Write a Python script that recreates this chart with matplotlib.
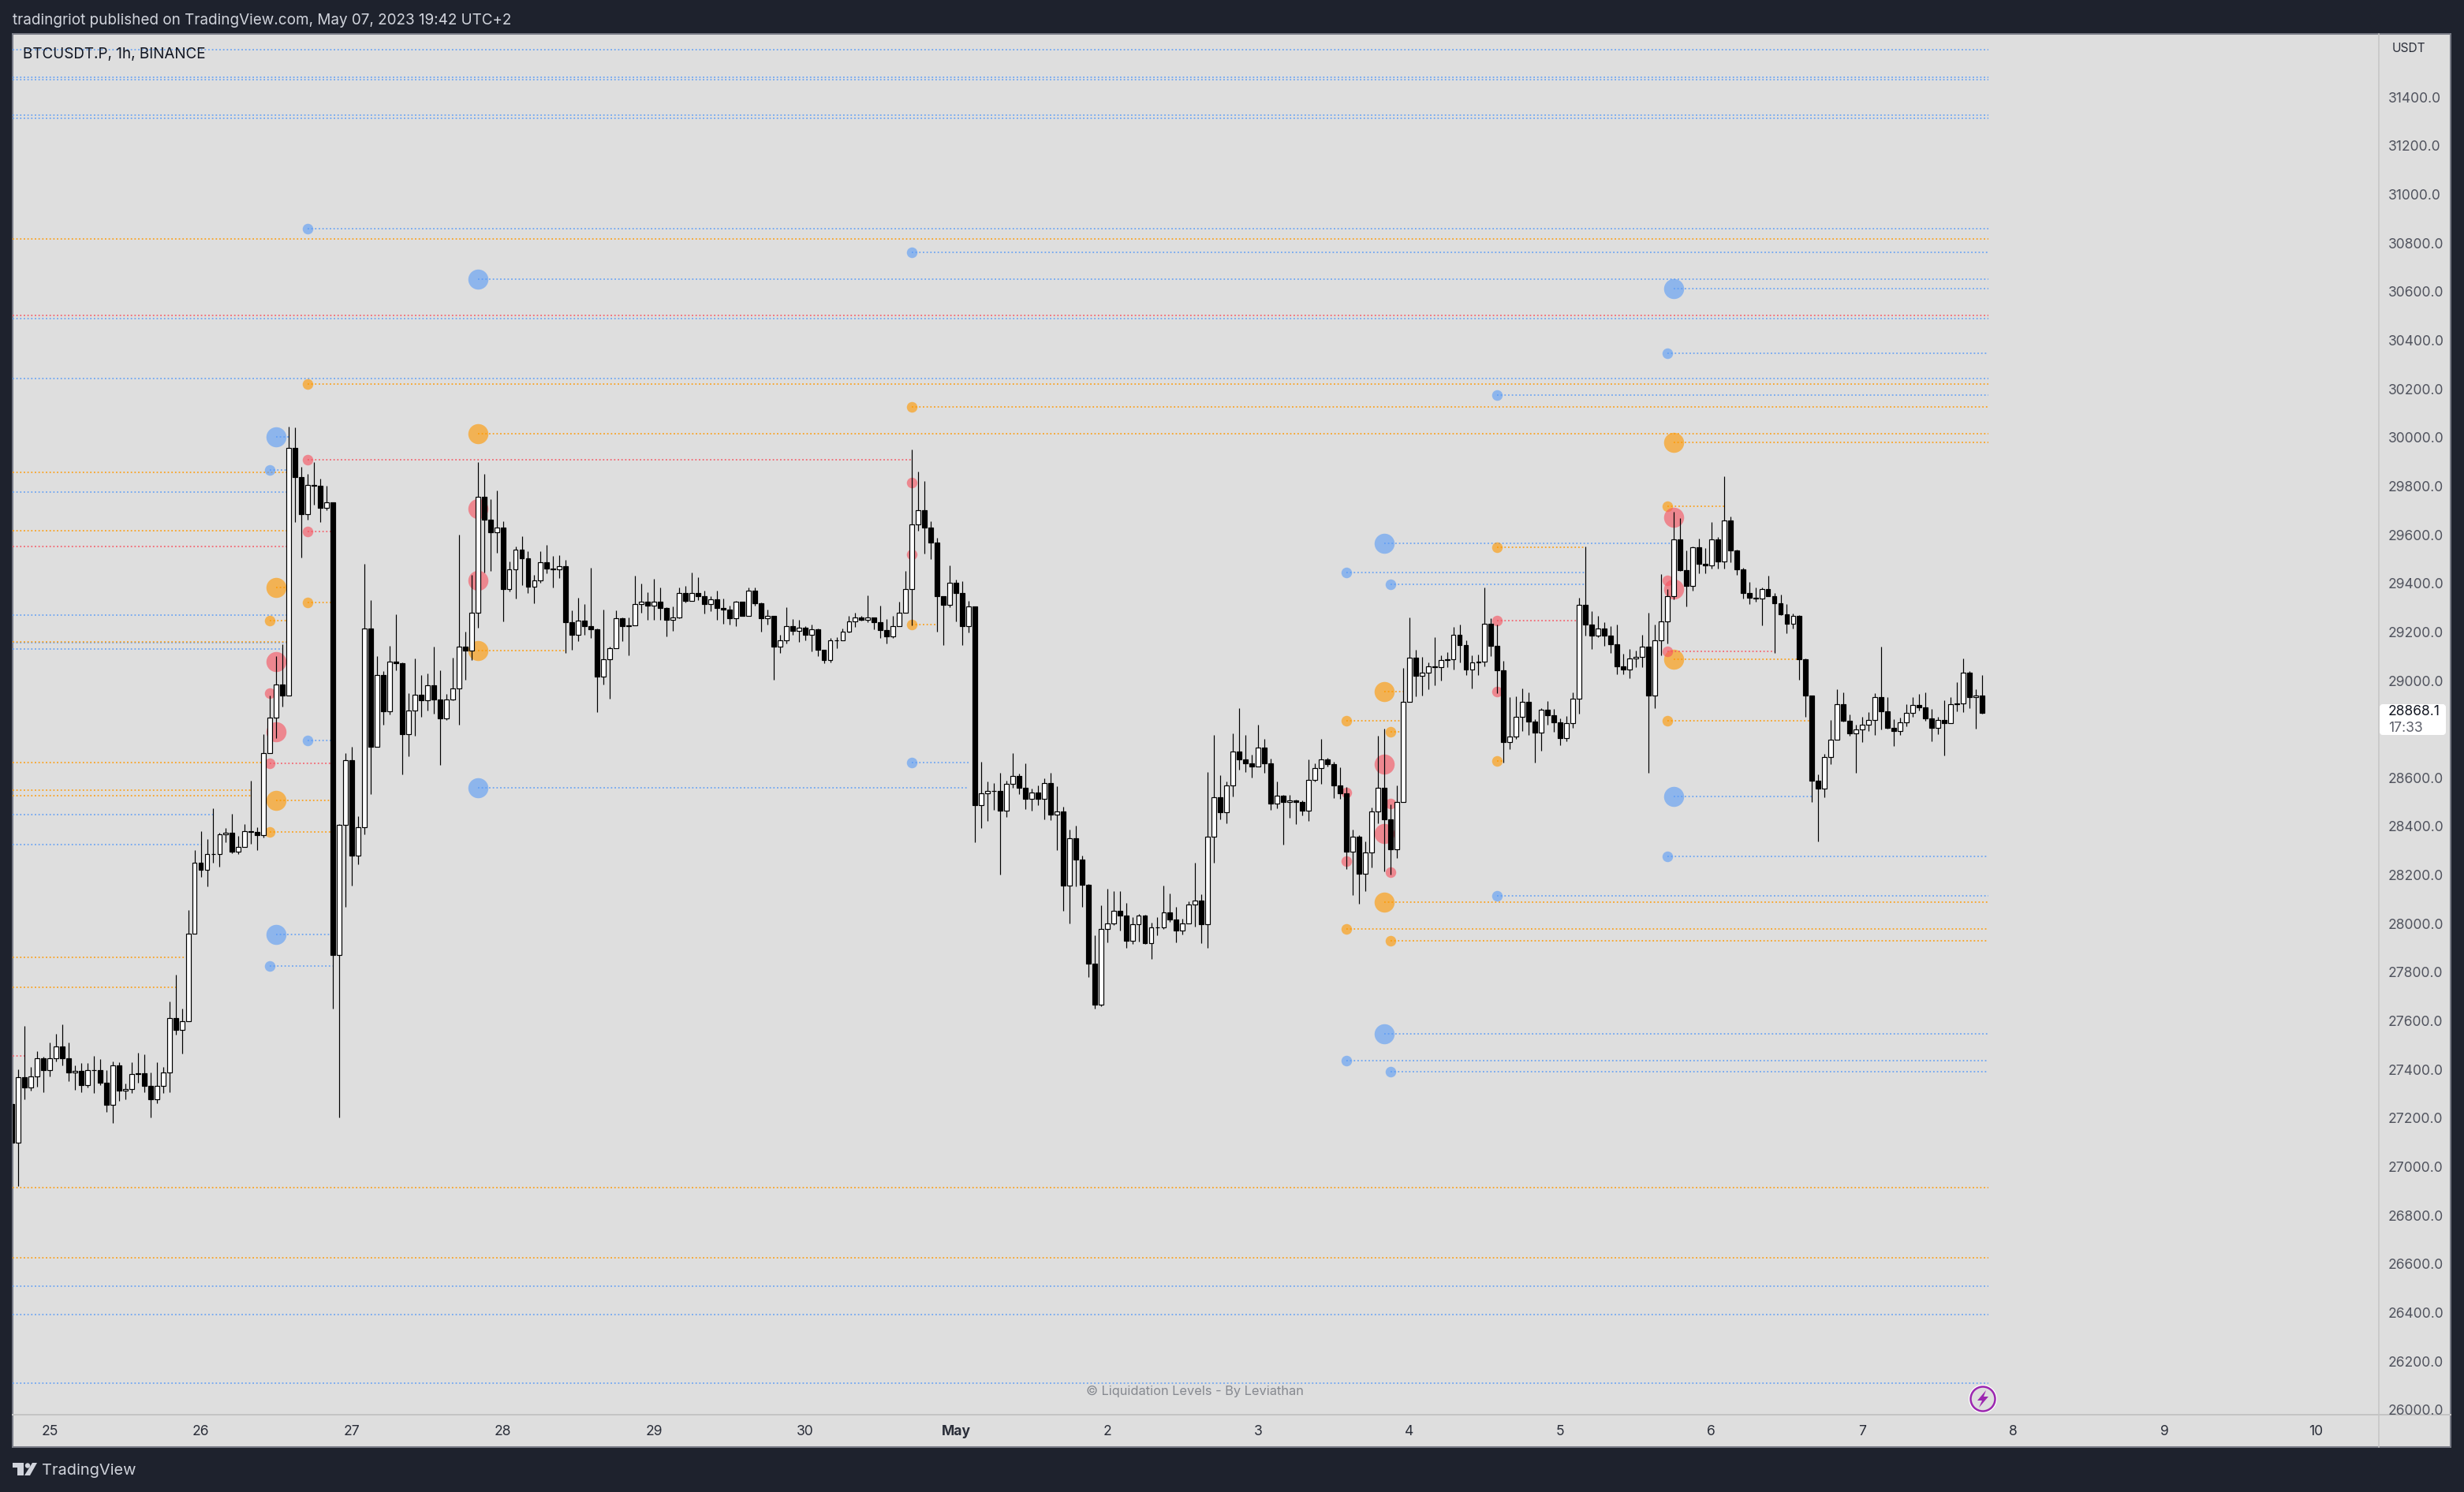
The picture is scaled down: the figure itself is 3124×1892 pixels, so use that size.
import matplotlib
matplotlib.use('Agg')
import matplotlib.pyplot as plt
from matplotlib.patches import Rectangle, Circle, Polygon, FancyBboxPatch
import numpy as np

W, H = 3124, 1892
DPI = 200
PX = 72 / DPI

plt.rcParams['font.family'] = ['Inter', 'DejaVu Sans']

# hourly candles, first one is 25 Apr 00:00 minus 6 hours
first_hour = -6
first_open = 27258
closes = [27099, 27367, 27327, 27372, 27447, 27398, 27447, 27496, 27447, 27386, 27394, 27337, 27398, 27396, 27347, 27253,
          27418, 27312, 27321, 27382, 27383, 27333, 27278, 27331, 27386, 27610, 27563, 27597, 27960, 28249, 28220, 28287,
          28286, 28369, 28375, 28296, 28314, 28379, 28378, 28365, 28703, 28849, 28983, 28939, 29956, 29836, 29686, 29804,
          29803, 29710, 29732, 27872, 28405, 28672, 28281, 28395, 29214, 28729, 29024, 28874, 29079, 29073, 28778, 28878,
          28943, 28920, 28982, 28922, 28845, 28922, 28967, 29138, 29122, 29279, 29757, 29661, 29610, 29631, 29376, 29458,
          29539, 29502, 29386, 29413, 29486, 29462,
          29459, 29471, 29241, 29187, 29248, 29225, 29212, 29017, 29087, 29134, 29257, 29225, 29226, 29316, 29323, 29309,
          29325, 29298, 29251, 29259, 29359, 29328, 29361, 29346, 29316, 29333, 29300, 29292, 29256, 29324, 29266, 29371,
          29317, 29257, 29265, 29140, 29167, 29223, 29205, 29219, 29187, 29212, 29125, 29083, 29164, 29167, 29200, 29244,
          29261, 29251, 29260, 29241, 29208, 29183, 29225, 29278, 29378, 29643, 29700, 29628, 29569, 29346, 29312, 29401,
          29361, 29223, 29305, 28489,
          28535, 28545, 28545, 28466, 28576, 28609, 28560, 28512, 28538, 28512, 28579, 28447, 28463, 28158, 28350, 28265,
          28161, 27834, 27666, 27977, 28002, 28054, 28032, 27928, 27999, 28032, 27919, 27986, 27985, 28045, 28016, 27971,
          28002, 28079, 28096, 27996, 28359, 28521, 28457, 28570, 28707, 28677, 28661, 28648, 28725, 28658, 28493, 28527,
          28499, 28507, 28499, 28466, 28590, 28639, 28677, 28655, 28567, 28535, 28296, 28359, 28205, 28292, 28463, 28560,
          28428, 28306, 28501, 28914, 29095, 29018, 29031, 29057, 29056, 29086, 29089, 29189, 29147, 29046, 29076, 29078,
          29235, 29144, 29042, 28746, 28771, 28850, 28911, 28831, 28787, 28881, 28856, 28829, 28762, 28826, 28924,
          29313, 29230, 29186, 29213, 29184, 29150, 29060, 29047, 29090, 29097, 29138, 28939, 29164, 29245, 29346, 29580,
          29455, 29391, 29547, 29481, 29473, 29580, 29491, 29658, 29534, 29456, 29359, 29342, 29339, 29375, 29348, 29319,
          29274, 29235, 29265, 29089, 28937, 28589, 28557, 28684, 28758, 28902, 28833, 28784, 28798, 28817, 28837, 28931,
          28874, 28804, 28791, 28829, 28868, 28899, 28890, 28845, 28807, 28837, 28826, 28904, 28905, 29032, 28933, 28940,
          28868]
highs = [27258, 27400, 27579, 27410, 27475, 27453, 27510, 27548, 27585, 27510, 27416, 27426, 27426, 27455, 27443, 27396,
         27432, 27430, 27341, 27430, 27469, 27463, 27386, 27430, 27410, 27679, 27789, 27650, 28057, 28302, 28381, 28348,
         28473, 28373, 28393, 28452, 28361, 28408, 28587, 28397, 28780, 28939, 29101, 29150, 30046, 30042, 29879, 29850,
         29899, 29832, 29800, 29732, 28411, 28700, 28729, 28442, 29480, 29332, 29101, 29038, 29142, 29272, 29075, 28949,
         29091, 29024, 29028, 29140, 29041, 28945, 29093, 29600, 29201, 29435, 29899, 29851, 29745, 29781, 29657, 29490,
         29553, 29594, 29533, 29435, 29533, 29558,
         29512, 29516, 29497, 29289, 29341, 29315, 29464, 29214, 29292, 29138, 29289, 29260, 29260, 29433, 29400, 29362,
         29418, 29382, 29302, 29305, 29382, 29388, 29445, 29425, 29369, 29348, 29369, 29337, 29307, 29328, 29324, 29384,
         29382, 29321, 29292, 29266, 29189, 29302, 29253, 29251, 29225, 29230, 29215, 29128, 29176, 29180, 29215, 29266,
         29279, 29266, 29350, 29261, 29307, 29253, 29266, 29324, 29452, 29950, 29860, 29820, 29657, 29587, 29346, 29474,
         29414, 29410, 29328, 29305,
         28667, 28586, 28578, 28620, 28589, 28702, 28617, 28659, 28554, 28570, 28598, 28620, 28565, 28480, 28387, 28403,
         28280, 28164, 27952, 28075, 28142, 28133, 28134, 28086, 28027, 28040, 28038, 28004, 28026, 28158, 28125, 28070,
         28019, 28093, 28251, 28122, 28625, 28777, 28611, 28586, 28782, 28888, 28777, 28696, 28820, 28759, 28680, 28586,
         28530, 28530, 28510, 28507, 28677, 28658, 28759, 28683, 28667, 28644, 28562, 28386, 28365, 28337, 28479, 28774,
         28801, 28491, 28570, 29053, 29259, 29125, 29097, 29076, 29178, 29105, 29117, 29221, 29230, 29167, 29105, 29108,
         29383, 29257, 29230, 29081, 28932, 28935, 28968, 28950, 28842, 28887, 28916, 28884, 28845, 28853, 28950,
         29340, 29551, 29286, 29265, 29239, 29224, 29230, 29111, 29129, 29123, 29188, 29279, 29230, 29439, 29375, 29693,
         29668, 29537, 29552, 29583, 29545, 29651, 29589, 29841, 29675, 29538, 29464, 29406, 29383, 29383, 29432, 29360,
         29353, 29315, 29276, 29269, 29091, 28937, 28613, 28697, 28839, 28963, 28952, 28859, 28819, 28850, 28871, 28948,
         29140, 28932, 28841, 28848, 28902, 28932, 28945, 28952, 28882, 28851, 28919, 28932, 28994, 29091, 29039, 28963,
         29023]
lows = [27095, 26920, 27276, 27312, 27329, 27308, 27371, 27432, 27416, 27351, 27316, 27306, 27325, 27304, 27335, 27225,
        27180, 27272, 27276, 27304, 27345, 27306, 27204, 27260, 27304, 27306, 27544, 27465, 27597, 27960, 28192, 28153,
        28251, 28233, 28334, 28291, 28287, 28314, 28330, 28304, 28355, 28703, 28762, 28892, 28939, 29653, 29507, 29663,
        29722, 29651, 29700, 27650, 27204, 28070, 28155, 28245, 28369, 28534, 28729, 28817, 28861, 29041, 28615, 28690,
        28772, 28851, 28876, 28865, 28654, 28839, 28920, 28817, 29004, 29083, 29218, 29443, 29452, 29527, 29242, 29366,
        29338, 29392, 29360, 29317, 29401, 29441,
        29384, 29423, 29115, 29125, 29161, 29189, 29174, 28871, 28984, 28926, 29134, 29161, 29103, 29226, 29279, 29251,
        29251, 29251, 29183, 29205, 29256, 29320, 29329, 29330, 29276, 29285, 29251, 29234, 29230, 29225, 29266, 29266,
        29307, 29202, 29230, 29003, 29115, 29153, 29189, 29158, 29166, 29120, 29102, 29071, 29074, 29134, 29164, 29197,
        29221, 29248, 29241, 29211, 29174, 29153, 29174, 29225, 29278, 29228, 29615, 29523, 29500, 29202, 29146, 29302,
        29243, 29147, 29199, 28336,
        28394, 28422, 28469, 28202, 28439, 28560, 28534, 28472, 28464, 28488, 28428, 28425, 28302, 28052, 28001, 28152,
        28070, 27780, 27652, 27661, 27924, 27993, 27972, 27901, 27917, 27925, 27916, 27856, 27953, 27979, 28007, 27924,
        27955, 28001, 27988, 27920, 27900, 28251, 28428, 28412, 28523, 28633, 28625, 28601, 28648, 28620, 28468, 28476,
        28326, 28436, 28409, 28444, 28422, 28586, 28575, 28648, 28518, 28515, 28224, 28117, 28082, 28133, 28232, 28413,
        28216, 28202, 28270, 28501, 28914, 28935, 28938, 28963, 28979, 29001, 29054, 29045, 29076, 29023, 28968, 29023,
        29057, 29101, 28947, 28664, 28718, 28759, 28793, 28777, 28664, 28711, 28818, 28790, 28735, 28751, 28806,
        28865, 29186, 29130, 29177, 29143, 29112, 29026, 29026, 29010, 29056, 29056, 28622, 28888, 29103, 29152, 29334,
        29450, 29305, 29371, 29441, 29441, 29462, 29462, 29462, 29487, 29436, 29338, 29316, 29325, 29228, 29346, 29112,
        29270, 29195, 29213, 29003, 28851, 28500, 28337, 28520, 28656, 28758, 28830, 28772, 28622, 28747, 28792, 28776,
        28799, 28801, 28732, 28775, 28813, 28851, 28877, 28834, 28750, 28778, 28693, 28826, 28873, 28871, 28887, 28802,
        28865]

# levels that come in from the left edge: (price, last hour)
END = 308
blue_left = [(31597, END), (31481, END), (31471, END), (31327, END), (31313, END), (30490, END), (30243, END),
             (29777, 38), (29270, 38), (29156, 38), (29130, 37), (28450, 26), (28326, 24),
             (26507, END), (26391, END), (26109, END)]
orange_left = [(30818, END), (29857, 38), (29616, 38), (29158, 38), (28662, 34), (28550, 32), (28526, 32),
               (27860, 22), (27738, 20), (26913, END), (26624, END)]
red_left = [(30502, END), (29553, 38), (27455, -4)]

# bubbles: (hour, price, last hour of the level or None)
blue_small = [(35, 29865, 38), (35, 27827, 45), (41, 30859, END), (41, 28752, 45), (137, 30762, END), (137, 28663, 146),
              (206, 29446, 244), (206, 27437, END), (213, 29397, 244), (213, 27392, END), (230, 30175, END),
              (230, 28114, END), (257, 30347, END), (257, 28276, END)]
blue_big = [(36, 30003, 38), (36, 27954, 45), (68, 30652, END), (68, 28560, 146), (212, 29565, 258),
            (212, 27547, END), (258, 30614, END), (258, 28524, 280)]
orange_small = [(35, 29248, 38), (35, 28377, 45), (41, 30219, END), (41, 29321, 45), (137, 30125, END), (137, 29229, 141),
                (206, 28836, 215), (206, 27979, END), (213, 28788, 215), (213, 27931, END), (230, 29548, 244),
                (230, 28670, 231), (257, 29718, 266), (257, 28835, 280)]
orange_big = [(36, 29382, 38), (36, 28507, 45), (68, 30017, END), (68, 29124, 82), (212, 28954, 215),
              (212, 28090, END), (258, 29980, END), (258, 29089, 278)]
red_small = [(35, 28947, None), (35, 28660, 45), (41, 29908, 137), (41, 29612, 45), (137, 29815, None), (137, 29520, None),
             (206, 28540, None), (206, 28257, None), (213, 28493, None), (213, 28211, None), (230, 29246, 243),
             (230, 28955, None), (257, 29413, None), (257, 29121, 274)]
red_big = [(36, 29079, None), (36, 28790, None), (68, 29708, None), (68, 29413, None), (212, 28655, None),
           (212, 28370, None), (258, 29673, None), (258, 29378, None)]

# 28800 is covered by the last price tag in the reference
price_ticks = [p for p in range(26000, 31600, 200) if p != 28800]
day_labels = ['25', '26', '27', '28', '29', '30', 'May', '2', '3', '4', '5', '6', '7', '8', '9', '10']

BLUE = '#5b9cf6'
ORANGE = '#ff9800'
RED = '#f7525f'
DARK = '#1e222d'
PANEL = '#dedede'

closes = np.array(closes, dtype=float)
highs = np.array(highs, dtype=float)
lows = np.array(lows, dtype=float)
opens = np.r_[first_open, closes[:-1]]
hours = np.arange(first_hour, first_hour + len(closes))

fig = plt.figure(figsize=(W / DPI, H / DPI), dpi=DPI, facecolor=DARK)

back = fig.add_axes([0, 0, 1, 1], zorder=0)
back.set_xlim(0, W)
back.set_ylim(H, 0)
back.axis('off')
back.add_patch(Rectangle((16, 43), 3091, 1792, fc=PANEL, ec='#787b86', lw=2 * PX))
back.plot([3016, 3016], [43, 1835], color='#c4c4c4', lw=1.5 * PX)
back.plot([16, 3107], [1794, 1794], color='#c4c4c4', lw=2 * PX)

# main price panel
ax_l, ax_r, ax_t, ax_b = 16, 3016, 43, 1794
ax = fig.add_axes([ax_l / W, 1 - ax_b / H, (ax_r - ax_l) / W, (ax_b - ax_t) / H], zorder=1)
ax.patch.set_alpha(0)
ax.set_xlim((ax_l - 63) / 7.98, (ax_r - 63) / 7.98)
ax.set_ylim(25979.5, 31660.5)
for s in ax.spines.values():
    s.set_visible(False)

left_edge = ax.get_xlim()[0]
dots = (0, (1, 1.6))
for levels, col in [(blue_left, BLUE), (orange_left, ORANGE), (red_left, RED)]:
    for price, end in levels:
        ax.hlines(price, left_edge, end, colors=col, linestyles=dots, lw=1.8 * PX, alpha=0.85, zorder=2)

for bubbles, col, size in [(blue_small, BLUE, 13.5), (blue_big, BLUE, 25.5),
                           (orange_small, ORANGE, 13.5), (orange_big, ORANGE, 25.5),
                           (red_small, RED, 13.5), (red_big, RED, 25.5)]:
    xs = [b[0] for b in bubbles]
    ys = [b[1] for b in bubbles]
    ax.scatter(xs, ys, s=(size * PX) ** 2, color=col, alpha=0.62, linewidths=0, zorder=2)
    for h, price, end in bubbles:
        if end is not None:
            ax.hlines(price, h, end, colors=col, linestyles=dots, lw=1.8 * PX, alpha=0.85, zorder=2)

ax.vlines(hours, lows, highs, colors='black', lw=1.2 * PX, zorder=3)
up = closes >= opens
body_low = np.minimum(opens, closes)
body_h = np.abs(closes - opens)
ax.bar(hours, body_h, bottom=body_low, width=0.74, color=np.where(up, 'white', 'black').tolist(),
       edgecolor='black', linewidth=1.2 * PX, zorder=4)

ax.yaxis.tick_right()
ax.set_yticks(price_ticks)
ax.set_yticklabels(['%.1f' % p for p in price_ticks], color='#50535e', fontsize=6.3, ha='left')
ax.set_xticks(np.arange(len(day_labels)) * 24)
ax.set_xticklabels(day_labels, color='#2a2e39', fontsize=6.3)
ax.get_xticklabels()[6].set_fontweight('bold')
ax.tick_params(axis='y', length=0, pad=12 * PX)
ax.tick_params(axis='x', length=0, pad=13 * PX)

# everything around the panel, in pixels
top = fig.add_axes([0, 0, 1, 1], zorder=5)
top.set_xlim(0, W)
top.set_ylim(H, 0)
top.axis('off')
top.patch.set_alpha(0)

top.text(16, 26, 'tradingriot published on TradingView.com, May 07, 2023 19:42 UTC+2',
         color='#d1d4dc', fontsize=6.8, va='center', ha='left')
top.text(29, 69, 'BTCUSDT.P, 1h, BINANCE', color='#131722', fontsize=6.8, va='center', ha='left')
top.text(3033, 62, 'USDT', color='#2a2e39', fontsize=5.6, va='center', ha='left')
top.text(1515, 1764, '\u00a9 Liquidation Levels - By Leviathan', color='#85888f', fontsize=5.9, va='center', ha='center')

top.add_patch(FancyBboxPatch((3018, 894), 82, 37, boxstyle='round,pad=0,rounding_size=3', fc='white', ec='white', lw=2 * PX))
top.text(3028, 902, '28868.1', color='#131722', fontsize=6.3, va='center', ha='left')
top.text(3028, 923, '17:33', color='#5d606b', fontsize=6.3, va='center', ha='left')

# purple bolt badge
top.add_patch(Circle((2514, 1774), 18, fc='white', ec='none'))
top.add_patch(Circle((2514, 1774), 15.5, fc=PANEL, ec='#9c27b0', lw=2.5 * PX))
top.add_patch(Polygon([(2518, 1763), (2507, 1776), (2513, 1776), (2509, 1785), (2521, 1771), (2515, 1771)], fc='#9c27b0', ec='none'))

# TradingView logo
top.add_patch(Polygon([(16, 1855), (30, 1855), (30, 1871), (22, 1871), (22, 1861), (16, 1861)], fc='#d1d4dc', ec='none'))
top.add_patch(Circle((35, 1858.5), 3.2, fc='#d1d4dc', ec='none'))
top.add_patch(Polygon([(41, 1855), (47, 1855), (38, 1871), (31, 1871)], fc='#d1d4dc', ec='none'))
top.text(53, 1865, 'TradingView', color='#d1d4dc', fontsize=7.2, va='center', ha='left')

fig.savefig('out.png', dpi=DPI, facecolor=DARK)
